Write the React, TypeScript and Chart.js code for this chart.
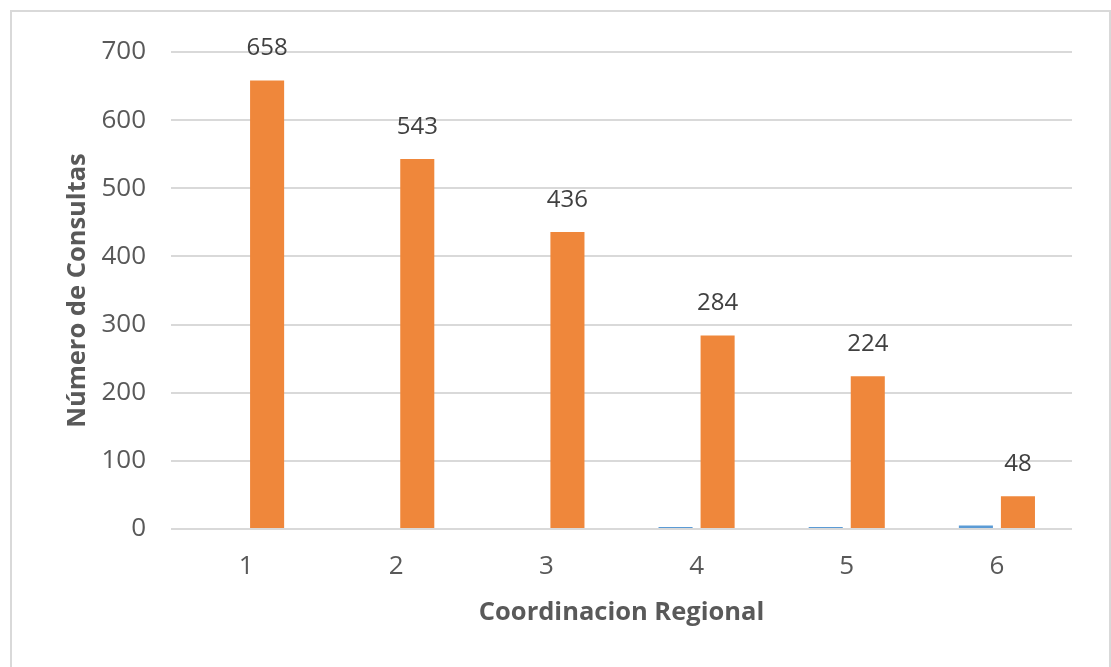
import React, { useEffect, useRef } from "react";
import { Chart, registerables } from "chart.js";

Chart.register(...registerables);

const categories = ["1", "2", "3", "4", "5", "6"];
const blueValues = [0, 0, 0, 3, 3, 5];
const orangeValues = [658, 543, 436, 284, 224, 48];
const yTicks = [0, 100, 200, 300, 400, 500, 600, 700];

const FONT = "'Open Sans', 'DejaVu Sans', sans-serif";

const labelPlugin = {
  id: "orangeLabels",
  afterDatasetsDraw(chart: any) {
    const ctx = chart.ctx;
    const meta = chart.getDatasetMeta(1);
    ctx.save();
    ctx.font = `24px ${FONT}`;
    ctx.fillStyle = "#404040";
    ctx.textAlign = "center";
    ctx.textBaseline = "middle";
    meta.data.forEach((bar: any, i: number) => {
      ctx.fillText(String(orangeValues[i]), bar.x, bar.y - 32);
    });
    ctx.restore();
  },
};

export default function App() {
  const ref = useRef<HTMLCanvasElement>(null);
  useEffect(() => {
    const chart = new Chart(ref.current!, {
      type: "bar",
      data: {
        labels: categories,
        datasets: [
          {
            data: blueValues,
            backgroundColor: "#5B9BD5",
            categoryPercentage: 0.56,
            barPercentage: 0.81,
          },
          {
            data: orangeValues,
            backgroundColor: "#EF873B",
            categoryPercentage: 0.56,
            barPercentage: 0.81,
          },
        ],
      },
      options: {
        animation: false,
        responsive: false,
        maintainAspectRatio: false,
        layout: { padding: { left: 0, right: 39, top: 52, bottom: 0 } },
        plugins: { legend: { display: false }, tooltip: { enabled: false } },
        scales: {
          x: {
            grid: { display: false },
            border: { display: false },
            ticks: { color: "#595959", font: { family: FONT, size: 26 }, padding: 14 },
            title: {
              display: true,
              text: "Coordinacion Regional",
              color: "#595959",
              font: { family: FONT, size: 25.5, weight: "bold" },
              padding: { top: 0, bottom: 39 },
            },
            afterFit: (s: any) => {
              s.height = 138;
            },
          },
          y: {
            min: 0,
            max: 700,
            afterBuildTicks: (s: any) => {
              s.ticks = yTicks.map((v) => ({ value: v }));
            },
            grid: { color: "#d9d9d9", lineWidth: 2, drawTicks: false },
            border: { display: false },
            ticks: { color: "#595959", font: { family: FONT, size: 26 }, padding: 25 },
            title: {
              display: true,
              text: "Número de Consultas",
              color: "#595959",
              font: { family: FONT, size: 25.5, weight: "bold" },
              padding: { top: 62, bottom: 0 },
            },
            afterFit: (s: any) => {
              s.width = 171;
            },
          },
        },
      },
      plugins: [labelPlugin],
    });
    return () => chart.destroy();
  }, []);
  return (
    <div style={{ position: "fixed", left: 0, top: 0, width: 1111, height: 667, background: "#fff" }}>
      <canvas ref={ref} width={1111} height={667} style={{ position: "absolute", left: 0, top: 0 }} />
      <div
        style={{
          position: "absolute",
          left: 10,
          top: 10,
          width: 1101,
          height: 700,
          borderLeft: "2px solid #d9d9d9",
          borderTop: "2px solid #d9d9d9",
          borderRight: "2px solid #d9d9d9",
          boxSizing: "border-box",
        }}
      />
    </div>
  );
}
